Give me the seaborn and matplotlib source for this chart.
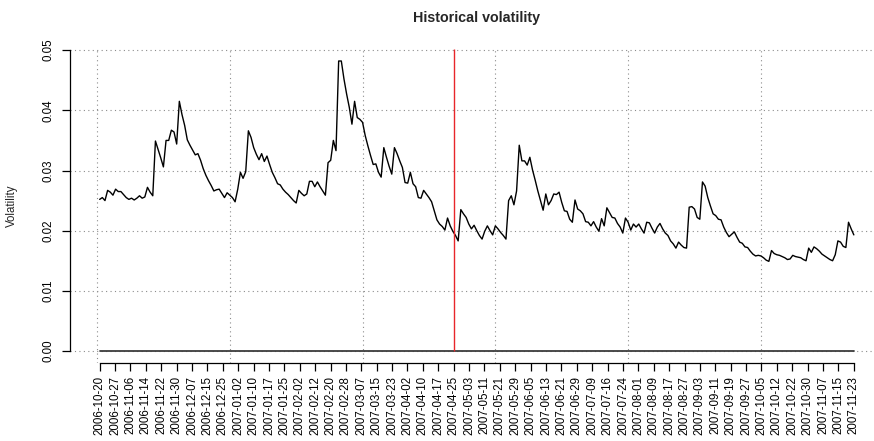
import numpy as np
import pandas as pd
import matplotlib
matplotlib.use("Agg")
import matplotlib.pyplot as plt
import seaborn as sns

# Daily historical volatility, one value per trading day
volatility = [
    0.0252, 0.0255, 0.0250, 0.0267, 0.0264, 0.0259, 0.0269, 0.0265, 0.0265, 0.0260,
    0.0255, 0.0252, 0.0254, 0.0251, 0.0254, 0.0258, 0.0254, 0.0256, 0.0272, 0.0264,
    0.0258, 0.0349, 0.0335, 0.0321, 0.0306, 0.0350, 0.0350, 0.0367, 0.0364, 0.0344,
    0.0415, 0.0393, 0.0375, 0.0351, 0.0342, 0.0334, 0.0326, 0.0328, 0.0317, 0.0303,
    0.0292, 0.0283, 0.0275, 0.0266, 0.0268, 0.0269, 0.0262, 0.0255, 0.0263, 0.0259,
    0.0255, 0.0248, 0.0269, 0.0297, 0.0287, 0.0298, 0.0366, 0.0355, 0.0338, 0.0327,
    0.0318, 0.0328, 0.0315, 0.0324, 0.0310, 0.0297, 0.0288, 0.0278, 0.0276, 0.0269,
    0.0264, 0.0260, 0.0255, 0.0250, 0.0246, 0.0267, 0.0262, 0.0258, 0.0261, 0.0282,
    0.0282, 0.0273, 0.0281, 0.0273, 0.0266, 0.0259, 0.0313, 0.0317, 0.0350, 0.0333,
    0.0482, 0.0482, 0.0452, 0.0427, 0.0405, 0.0377, 0.0415, 0.0388, 0.0385, 0.0380,
    0.0358, 0.0341, 0.0325, 0.0310, 0.0311, 0.0297, 0.0289, 0.0338, 0.0322, 0.0307,
    0.0294, 0.0338, 0.0328, 0.0316, 0.0305, 0.0280, 0.0279, 0.0297, 0.0278, 0.0273,
    0.0255, 0.0254, 0.0267, 0.0261, 0.0255, 0.0248, 0.0233, 0.0218, 0.0211, 0.0207,
    0.0201, 0.0221, 0.0208, 0.0199, 0.0192, 0.0183, 0.0235, 0.0228, 0.0222, 0.0211,
    0.0203, 0.0209, 0.0200, 0.0192, 0.0186, 0.0199, 0.0208, 0.0200, 0.0193, 0.0208,
    0.0203, 0.0197, 0.0192, 0.0186, 0.0250, 0.0258, 0.0243, 0.0266, 0.0342, 0.0316,
    0.0316, 0.0309, 0.0322, 0.0301, 0.0284, 0.0266, 0.0250, 0.0234, 0.0261, 0.0243,
    0.0250, 0.0261, 0.0260, 0.0264, 0.0247, 0.0233, 0.0232, 0.0219, 0.0214, 0.0251,
    0.0236, 0.0233, 0.0228, 0.0215, 0.0214, 0.0208, 0.0215, 0.0206, 0.0199, 0.0220,
    0.0208, 0.0238, 0.0230, 0.0222, 0.0221, 0.0212, 0.0206, 0.0196, 0.0221, 0.0214,
    0.0201, 0.0211, 0.0206, 0.0211, 0.0203, 0.0196, 0.0214, 0.0213, 0.0204, 0.0196,
    0.0206, 0.0212, 0.0203, 0.0196, 0.0192, 0.0183, 0.0178, 0.0171, 0.0181, 0.0176,
    0.0172, 0.0171, 0.0239, 0.0240, 0.0236, 0.0222, 0.0219, 0.0281, 0.0274, 0.0255,
    0.0241, 0.0228, 0.0225, 0.0219, 0.0218, 0.0206, 0.0197, 0.0190, 0.0194, 0.0198,
    0.0189, 0.0181, 0.0179, 0.0173, 0.0172, 0.0166, 0.0161, 0.0158, 0.0159, 0.0158,
    0.0155, 0.0151, 0.0149, 0.0167, 0.0162, 0.0160, 0.0159, 0.0157, 0.0155, 0.0152,
    0.0153, 0.0159, 0.0157, 0.0156, 0.0155, 0.0152, 0.0150, 0.0171, 0.0164, 0.0173,
    0.0170, 0.0166, 0.0161, 0.0158, 0.0155, 0.0152, 0.0150, 0.0160, 0.0183, 0.0181,
    0.0174, 0.0172, 0.0214, 0.0203, 0.0193,
]

tick_labels = [
    "2006-10-20", "2006-10-27", "2006-11-06", "2006-11-14", "2006-11-22",
    "2006-11-30", "2006-12-07", "2006-12-15", "2006-12-25", "2007-01-02",
    "2007-01-10", "2007-01-17", "2007-01-25", "2007-02-02", "2007-02-12",
    "2007-02-20", "2007-02-28", "2007-03-07", "2007-03-15", "2007-03-23",
    "2007-04-02", "2007-04-10", "2007-04-17", "2007-04-25", "2007-05-03",
    "2007-05-11", "2007-05-21", "2007-05-29", "2007-06-05", "2007-06-13",
    "2007-06-21", "2007-06-29", "2007-07-09", "2007-07-16", "2007-07-24",
    "2007-08-01", "2007-08-09", "2007-08-17", "2007-08-27", "2007-09-03",
    "2007-09-11", "2007-09-19", "2007-09-27", "2007-10-05", "2007-10-12",
    "2007-10-22", "2007-10-30", "2007-11-07", "2007-11-15", "2007-11-23",
]

event_date = "2007-04-25"
y_ticks = [0.00, 0.01, 0.02, 0.03, 0.04, 0.05]
x_grid = [0, 50, 100, 150, 200, 250]

n = len(volatility)
df = pd.DataFrame({
    "day": np.arange(1, n + 1),
    "volatility": volatility,
    "baseline": np.zeros(n),
})
tick_pos = np.linspace(1, n, len(tick_labels))
event_pos = tick_pos[tick_labels.index(event_date)]

sns.set_style("white")
plt.rcParams["font.family"] = ["Liberation Sans", "DejaVu Sans"]

W, H = 874, 441
fig = plt.figure(figsize=(W / 100, H / 100), dpi=100)
# plotting region in pixel terms (left, top, right, bottom)
L, T, R, B = 69.5, 49.4, 884.0, 362.6
ax = fig.add_axes([L / W, 1 - B / H, (R - L) / W, (B - T) / H])

xmin, xmax = 1 - 0.04 * (n - 1), n + 0.04 * (n - 1)
ymax_data = max(volatility)
ymin, ymax = -0.04 * ymax_data, ymax_data * 1.04
ax.set_xlim(xmin, xmax)
ax.set_ylim(ymin, ymax)

# dotted grid
grid_kw = dict(color="#8c8c8c", lw=0.8, ls=(0, (1, 3)), zorder=0)
for g in y_ticks:
    ax.axhline(g, **grid_kw)
for g in x_grid:
    ax.axvline(g, **grid_kw)

sns.lineplot(data=df, x="day", y="baseline", ax=ax, color="#3c3c3c", lw=1.3, zorder=2)
sns.lineplot(data=df, x="day", y="volatility", ax=ax, color="black", lw=1.0, zorder=3)
ax.vlines(event_pos, 0, ymax, color="#e8262a", lw=1.0, zorder=4)

for s in ["top", "right"]:
    ax.spines[s].set_visible(False)
for s in ["left", "bottom"]:
    ax.spines[s].set_color("black")
    ax.spines[s].set_linewidth(0.9)
ax.spines["left"].set_bounds(y_ticks[0], y_ticks[-1])
ax.spines["bottom"].set_bounds(tick_pos[0], tick_pos[-1])

ax.set_yticks(y_ticks)
ax.set_yticklabels([f"{v:.2f}" for v in y_ticks], rotation=90, va="center")
ax.set_xticks(tick_pos)
ax.set_xticklabels(tick_labels, rotation=90)
ax.tick_params(axis="both", direction="out", length=5.5, width=0.9,
               color="black", labelsize=8.3, labelcolor="black",
               left=True, bottom=True)
ax.tick_params(axis="y", pad=5)
ax.tick_params(axis="x", pad=4)

ax.set_xlabel("")
ax.set_ylabel("Volatility", fontsize=8.3)
ax.yaxis.set_label_coords((18 - L) / (R - L), 0.5)

fig.text((L + R) / 2 / W, 1 - 18 / H, "Historical volatility",
         ha="center", va="center", fontsize=10.3, fontweight="bold")

fig.savefig("out.png", dpi=100)
